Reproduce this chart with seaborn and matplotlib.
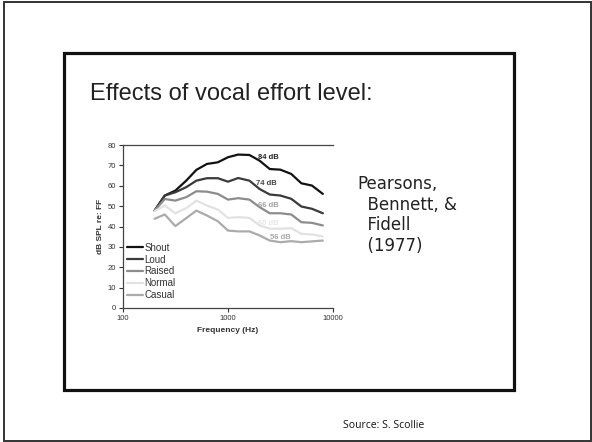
import numpy as np
import pandas as pd
import matplotlib
matplotlib.use("Agg")
import matplotlib.pyplot as plt
from matplotlib.patches import Rectangle
import seaborn as sns

# ---- data ----
freqs = [200, 250, 315, 400, 500, 630, 800, 1000, 1250, 1600, 2000, 2500, 3150, 4000, 5000, 6300, 8000]
shout = [47.8, 55.2, 57.6, 62.5, 67.8, 70.7, 71.5, 74.0, 75.3, 75.1, 72.3, 68.2, 67.9, 65.8, 61.2, 60.1, 56.0]
loud = [47.8, 55.2, 56.8, 59.3, 62.5, 63.7, 63.7, 62.0, 63.8, 62.5, 58.4, 55.7, 55.2, 53.6, 49.8, 48.7, 46.5]
raised = [47.8, 53.5, 52.7, 54.4, 57.3, 57.1, 56.0, 53.2, 53.9, 53.2, 49.5, 46.5, 46.5, 45.9, 42.1, 41.8, 40.5]
normal = [47.5, 50.3, 46.5, 49.0, 52.7, 50.3, 48.3, 44.2, 44.6, 44.2, 40.5, 38.9, 38.9, 39.2, 36.4, 36.1, 35.1]
casual = [43.8, 45.9, 40.2, 44.1, 47.8, 45.4, 42.6, 38.0, 37.6, 37.6, 35.6, 33.1, 32.3, 32.8, 32.3, 32.7, 33.1]
levels = ["Shout", "Loud", "Raised", "Normal", "Casual"]
level_labels = ["84 dB", "74 dB", "66 dB", "60 dB", "56 dB"]
yticks = [0, 10, 20, 30, 40, 50, 60, 70, 80]
xticks = [100, 1000, 10000]

series = {"Shout": shout, "Loud": loud, "Raised": raised, "Normal": normal, "Casual": casual}
df = pd.concat([pd.DataFrame({"freq": freqs, "level": series[k], "effort": k}) for k in levels],
               ignore_index=True)

palette = {"Shout": "#121212", "Loud": "#3a3a3a", "Raised": "#8c8c8c",
           "Normal": "#e2e2e2", "Casual": "#ababab"}
label_colors = ["#222222", "#444444", "#a0a0a0", "#e6e6e6", "#a8a8a8"]
label_pos = [(1950, 74.0), (1850, 61.2), (1950, 50.3), (1950, 41.6), (2500, 34.4)]

sns.set_style("white")
plt.rcParams["font.family"] = ["Liberation Sans", "DejaVu Sans"]

fig = plt.figure(figsize=(5.92, 4.42), dpi=100)
W, H = 592, 442

def px_rect(x0, y0, x1, y1, lw, color):
    r = Rectangle((x0 / W, 1 - y1 / H), (x1 - x0) / W, (y1 - y0) / H,
                  transform=fig.transFigure, fill=False, lw=lw, edgecolor=color)
    fig.patches.append(r)

# outer slide border and inner box
px_rect(3.5, 1.5, 590.5, 440.5, 1.4, "#333333")
px_rect(63.5, 52.5, 513.5, 390.0, 2.3, "#111111")

ax = fig.add_axes([123 / W, 1 - 308 / H, (333 - 123) / W, (308 - 145) / H])
sns.lineplot(data=df, x="freq", y="level", hue="effort", hue_order=levels,
             palette=palette, ax=ax, linewidth=1.6, legend=False)
ax.set_xscale("log")
ax.set_xlim(100, 10000)
ax.set_ylim(0, 80)
ax.set_xticks(xticks)
ax.set_xticklabels([str(v) for v in xticks])
ax.minorticks_off()
ax.set_yticks(yticks)
ax.set_yticklabels([str(v) for v in yticks])
ax.spines["right"].set_visible(False)
for s in ["left", "bottom", "top"]:
    ax.spines[s].set_color("#444444")
    ax.spines[s].set_linewidth(0.9)
ax.tick_params(axis="both", labelsize=5.5, colors="#333333", length=3, width=0.8,
               direction="out", pad=2, left=True, bottom=True)
ax.set_xlabel("Frequency (Hz)", fontsize=6, fontweight="bold", color="#333333", labelpad=4)
ax.set_ylabel("dB SPL re: FF", fontsize=6, fontweight="bold", color="#333333", labelpad=3)

for (fx, fy), txt, c in zip(label_pos, level_labels, label_colors):
    ax.text(fx, fy, txt, fontsize=5.5, fontweight="bold", color=c, va="center", ha="left")

handles = [plt.Line2D([], [], color=palette[k], lw=1.6) for k in levels]
leg = ax.legend(handles, levels, loc="lower left", bbox_to_anchor=(0.012, 0.035),
                frameon=False, fontsize=7, handlelength=1.55, handletextpad=0.2,
                labelspacing=0.2, borderaxespad=0.0, borderpad=0.2)
for t in leg.get_texts():
    t.set_color("#333333")

fig.text(90 / W, 1 - 94 / H, "Effects of vocal effort level:", fontsize=17,
         color="#222222", va="center", ha="left")
fig.text(357 / W, 1 - 215 / H, "Pearsons,\n  Bennett, &\n  Fidell\n  (1977)",
         fontsize=12, family=["DejaVu Sans"], color="#222222", va="center", ha="left",
         linespacing=1.2)
fig.text(343 / W, 1 - 425 / H, "Source: S. Scollie", fontsize=7.5,
         family=["Open Sans", "DejaVu Sans"], color="#111111", va="center", ha="left")

fig.savefig("out.png", dpi=100)
